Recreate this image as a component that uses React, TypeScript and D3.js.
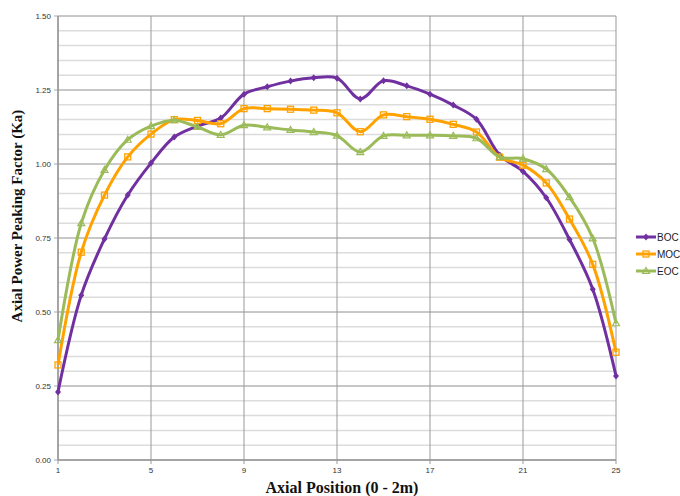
import React from "react";
import * as d3 from "d3";

const positions = d3.range(1, 26);
const boc = [0.23, 0.557, 0.747, 0.895, 1.003, 1.091, 1.128, 1.155, 1.236, 1.261, 1.28, 1.291, 1.29, 1.22, 1.281, 1.264, 1.236, 1.199, 1.151, 1.03, 0.975, 0.886, 0.745, 0.577, 0.284];
const moc = [0.321, 0.702, 0.895, 1.024, 1.101, 1.15, 1.147, 1.136, 1.187, 1.187, 1.185, 1.182, 1.173, 1.109, 1.166, 1.16, 1.151, 1.134, 1.108, 1.023, 0.996, 0.936, 0.814, 0.661, 0.364];
const eoc = [0.405, 0.8, 0.98, 1.082, 1.128, 1.148, 1.125, 1.098, 1.131, 1.124, 1.115, 1.108, 1.096, 1.04, 1.095, 1.097, 1.097, 1.095, 1.087, 1.023, 1.018, 0.983, 0.888, 0.749, 0.462];
const xTicks = [1, 5, 9, 13, 17, 21, 25];
const yTicks = [0, 0.25, 0.5, 0.75, 1.0, 1.25, 1.5];
const seriesNames = ["BOC", "MOC", "EOC"];
const colors = ["#7030A0", "#FFA200", "#9BBB59"];

const W = 680, H = 496;
const L = 58, R = 616, T = 16, B = 460;

function Marker({ kind, x, y, color }: { kind: string; x: number; y: number; color: string }) {
  if (kind === "BOC") {
    return <path d={`M${x},${y - 3.5}L${x + 3},${y}L${x},${y + 3.5}L${x - 3},${y}Z`} fill={color} />;
  }
  if (kind === "MOC") {
    return <rect x={x - 3} y={y - 3} width={6} height={6} fill="none" stroke={color} strokeWidth={1.3} />;
  }
  return <path d={`M${x},${y - 3.5}L${x + 3.5},${y + 2.5}L${x - 3.5},${y + 2.5}Z`} fill="none" stroke={color} strokeWidth={1.2} />;
}

export default function App() {
  const x = d3.scaleLinear().domain([1, 25]).range([L, R]);
  const y = d3.scaleLinear().domain([0, 1.5]).range([B, T]);
  const data = [boc, moc, eoc];
  const line = d3
    .line<number>()
    .x((_, i) => x(positions[i]))
    .y((d) => y(d))
    .curve(d3.curveCatmullRom.alpha(0.5));
  const minor = d3.range(0, 1.5001, 0.05).map((v) => +v.toFixed(2));

  return (
    <svg width={W} height={H} style={{ position: "absolute", left: 0, top: 0, background: "#fff" }}>
      {minor.map((v) => (
        <line key={"m" + v} x1={L} x2={R} y1={y(v)} y2={y(v)} stroke="#dcdcdc" strokeWidth={1.5} />
      ))}
      {yTicks.map((v) => (
        <line key={"y" + v} x1={L - 4} x2={R} y1={y(v)} y2={y(v)} stroke="#aaaaaa" strokeWidth={1} />
      ))}
      {xTicks.map((v) => (
        <line key={"x" + v} x1={x(v)} x2={x(v)} y1={T} y2={B + 4} stroke="#999999" strokeWidth={1} />
      ))}
      <line x1={L} x2={L} y1={T} y2={B} stroke="#999" strokeWidth={1.5} />
      <line x1={L} x2={R} y1={B} y2={B} stroke="#999" strokeWidth={1.5} />
      {yTicks.map((v) => (
        <text key={"yl" + v} x={L - 7} y={y(v) + 3} textAnchor="end" fontFamily="Liberation Sans, Arial, sans-serif" fontSize={8} fill="#333">
          {v.toFixed(2)}
        </text>
      ))}
      {xTicks.map((v) => (
        <text key={"xl" + v} x={x(v)} y={B + 13} textAnchor="middle" fontFamily="Liberation Sans, Arial, sans-serif" fontSize={8} fill="#333">
          {v}
        </text>
      ))}
      {data.map((s, k) => (
        <g key={seriesNames[k]}>
          <path d={line(s) || ""} fill="none" stroke={colors[k]} strokeWidth={3} strokeLinejoin="round" />
          {s.map((v, i) => (
            <Marker key={i} kind={seriesNames[k]} x={x(positions[i])} y={y(v)} color={colors[k]} />
          ))}
        </g>
      ))}
      {seriesNames.map((n, k) => {
        const ly = 237 + k * 17;
        return (
          <g key={"lg" + n}>
            <line x1={636} x2={656} y1={ly} y2={ly} stroke={colors[k]} strokeWidth={3} />
            <Marker kind={n} x={646} y={ly} color={colors[k]} />
            <text x={657} y={ly + 4} fontFamily="Liberation Sans, Arial, sans-serif" fontSize={10} fill="#222">
              {n}
            </text>
          </g>
        );
      })}
      <text
        transform={`translate(22,216) rotate(-90)`}
        textAnchor="middle"
        fontFamily="Liberation Serif, DejaVu Serif, serif"
        fontWeight="bold"
        fontSize={15}
        fill="#111"
      >
        Axial Power Peaking Factor (Ka)
      </text>
      <text x={342} y={493} textAnchor="middle" fontFamily="Liberation Serif, DejaVu Serif, serif" fontWeight="bold" fontSize={16} fill="#111">
        Axial Position (0 - 2m)
      </text>
    </svg>
  );
}
